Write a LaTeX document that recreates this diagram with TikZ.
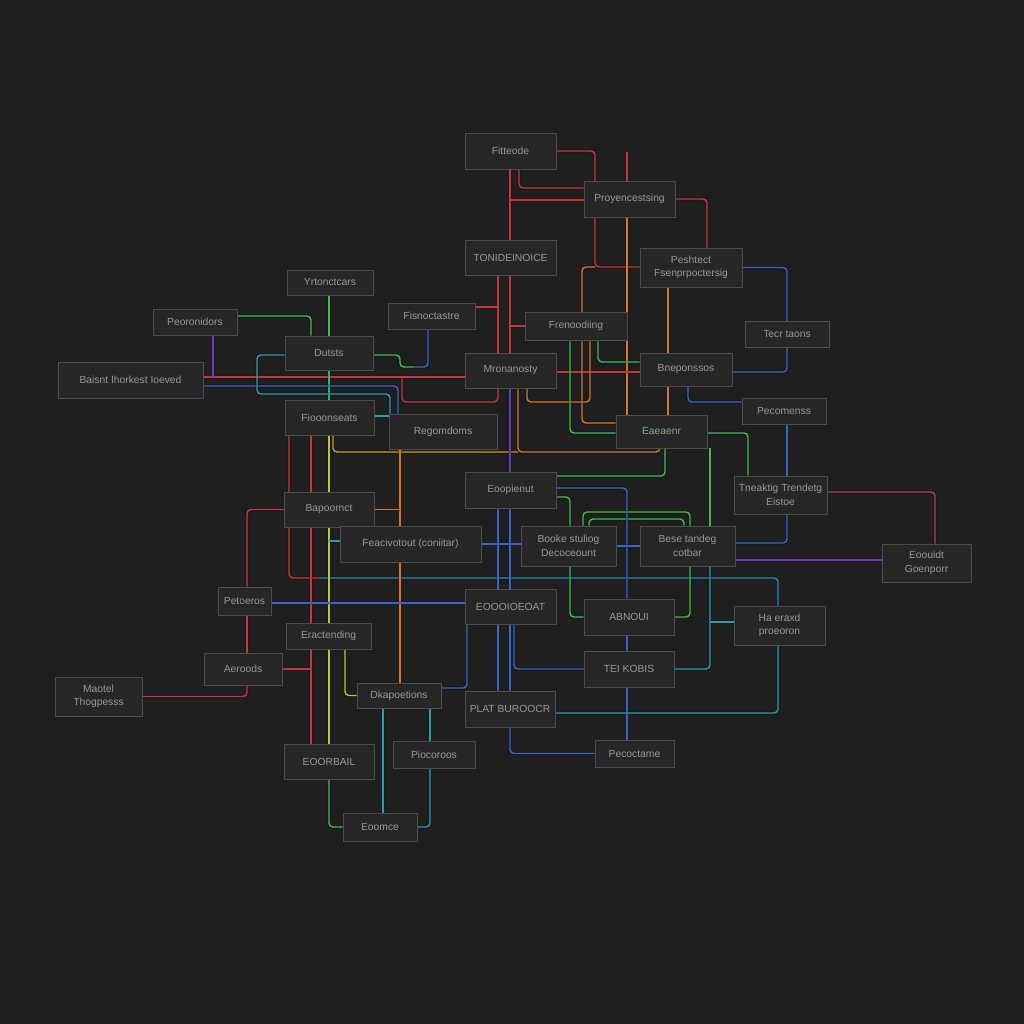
\documentclass[tikz,border=0pt]{standalone}
\usepackage{fontspec}
\setmainfont{Liberation Sans}
\pgfdeclarelayer{bgfill}
\pgfdeclarelayer{lines}
\pgfsetlayers{bgfill,lines,main}
\definecolor{bgc}{HTML}{1F1F1F}
\definecolor{boxfill}{HTML}{262626}
\definecolor{boxline}{HTML}{4C4C4C}
\definecolor{boxtext}{HTML}{9A9A9A}
\definecolor{cred}{HTML}{C8373C}
\definecolor{corange}{HTML}{D9782D}
\definecolor{camber}{HTML}{D29A32}
\definecolor{cyellow}{HTML}{B9C73A}
\definecolor{cgreen}{HTML}{3FBF4F}
\definecolor{cblue}{HTML}{3A66CC}
\definecolor{ccyan}{HTML}{2A9FB5}
\definecolor{cpurple}{HTML}{6A3CC0}
\definecolor{cpink}{HTML}{B0405E}
\definecolor{gtext}{HTML}{7FAE7F}
\tikzset{
  box/.style={draw=boxline, fill=boxfill, line width=0.8pt, text=boxtext,
    font=\fontsize{10.3}{13.5}\selectfont, align=center, inner sep=2pt},
  conn/.style={line width=1.4pt, rounded corners=4pt,
    preaction={draw, line width=4pt, opacity=0.16}},
}
\begin{document}
\begin{tikzpicture}[x=1pt,y=-1pt]
\begin{pgfonlayer}{bgfill}
\fill[bgc] (0,0) rectangle (1024,1024);
\end{pgfonlayer}
\useasboundingbox (0,0) rectangle (1024,1024);
% nodes
\node[box, minimum width=91pt, minimum height=36pt] (fit) at (510.5,151) {Fitteode};
\node[box, minimum width=91pt, minimum height=36pt] (proy) at (629.5,199) {Proyencestsing};
\node[box, minimum width=91pt, minimum height=35pt] (toni) at (510.5,257.5) {TONIDEINOICE};
\node[box, minimum width=102pt, minimum height=39pt] (pesh) at (691,267.5) {Peshtect\\Fsenprpoctersig};
\node[box, minimum width=86pt, minimum height=25pt] (yrt) at (330,282.5) {Yrtonctcars};
\node[box, minimum width=84pt, minimum height=26pt] (peor) at (195,322) {Peoronidors};
\node[box, minimum width=87pt, minimum height=26pt] (fisn) at (431.5,316) {Fisnoctastre};
\node[box, minimum width=102pt, minimum height=28pt] (fren) at (576,326) {Frenoodiing};
\node[box, minimum width=84pt, minimum height=26pt] (tecr) at (787,334) {Tecr taons};
\node[box, minimum width=88pt, minimum height=34pt] (duts) at (329,353) {Dutsts};
\node[box, minimum width=145pt, minimum height=36pt] (bais) at (130.5,380) {Baisnt Ihorkest Ioeved};
\node[box, minimum width=91pt, minimum height=35pt] (mron) at (510.5,370.5) {Mronanosty};
\node[box, minimum width=92pt, minimum height=33pt] (bnep) at (686,369.5) {Bneponssos};
\node[box, minimum width=89pt, minimum height=35pt] (fioo) at (329.5,417.5) {Fiooonseats};
\node[box, minimum width=108pt, minimum height=35pt] (reco) at (443,431.5) {Regomdoms};
\node[box, minimum width=84pt, minimum height=26pt] (peco) at (784,411) {Pecomenss};
\node[box, minimum width=91pt, minimum height=33pt, text=gtext] (eoea) at (661.5,431.5) {Eaeaenr};
\node[box, minimum width=91pt, minimum height=36pt] (eoop) at (510.5,490) {Eoopienut};
\node[box, minimum width=93pt, minimum height=38pt] (tnea) at (780.5,495) {Tneaktig Trendetg\\Eistoe};
\node[box, minimum width=90pt, minimum height=35pt] (bapo) at (329,509.5) {Bapoornct};
\node[box, minimum width=141pt, minimum height=36pt] (feac) at (410.5,544) {Feacivotout (coniitar)};
\node[box, minimum width=95pt, minimum height=40pt] (book) at (568.5,546) {Booke stuliog\\Decoceount};
\node[box, minimum width=95pt, minimum height=40pt] (bese) at (687.5,546) {Bese tandeg\\cotbar};
\node[box, minimum width=89pt, minimum height=38pt] (eoui) at (926.5,563) {Eoouidt\\Goenporr};
\node[box, minimum width=53pt, minimum height=28pt] (peto) at (244.5,601) {Petoeros};
\node[box, minimum width=91pt, minimum height=35pt] (eooo) at (510.5,606.5) {EOOOIOEOAT};
\node[box, minimum width=90pt, minimum height=36pt] (abno) at (629,617) {ABNOUI};
\node[box, minimum width=91pt, minimum height=39pt] (haer) at (779.5,625.5) {Ha eraxd\\proeoron};
\node[box, minimum width=85pt, minimum height=26pt] (erac) at (328.5,636) {Eractending};
\node[box, minimum width=78pt, minimum height=32pt] (aero) at (243,669) {Aeroods};
\node[box, minimum width=90pt, minimum height=36pt] (teik) at (629,669) {TEI KOBIS};
\node[box, minimum width=87pt, minimum height=39pt] (maot) at (98.5,696.5) {Maotel\\Thogpesss};
\node[box, minimum width=84pt, minimum height=25pt] (dkap) at (399,695.5) {Dkapoetions};
\node[box, minimum width=90pt, minimum height=36pt] (plat) at (510,709) {PLAT BUROOCR};
\node[box, minimum width=90pt, minimum height=35pt] (eoor) at (329,761.5) {EOORBAIL};
\node[box, minimum width=82pt, minimum height=27pt] (pioc) at (434,754.5) {Piocoroos};
\node[box, minimum width=79pt, minimum height=27pt] (peca) at (634.5,753.5) {Pecoctame};
\node[box, minimum width=74pt, minimum height=28pt] (eorc) at (380,827) {Eoomce};
% junction coordinates
\coordinate (j1) at (595,267);
\coordinate (j2) at (627,152);
\coordinate (j3) at (510,200);
\coordinate (j4) at (213,377);
\coordinate (j5) at (402,377);
\coordinate (j6) at (320,578);
\coordinate (j7) at (710,560);
\coordinate (j8) at (710,622);
\coordinate (j9) at (414,367);
\coordinate (j10) at (329,541);
\begin{pgfonlayer}{lines}
% red
\draw[conn, cred] (fit.east) -| (j1) -- (pesh.west |- 0,267);
\draw[conn, cred] (j2) -- (proy.north -| 627,0);
\draw[conn, corange] (proy.south -| 627,0) -- (eoea.north -| 627,0);
\draw[conn, cred] (fit.south -| 519,0) |- (proy.west |- 0,188);
\draw[conn, cred] (fit.south -| 510,0) -- (toni.north -| 510,0);
\draw[conn, cred] (toni.south -| 510,0) -- (mron.north -| 510,0);
\draw[conn, cred] (j3) -- (proy.west |- 0,200);
\draw[conn, cred] (fren.west) -- (fren.west -| 510,0);
\draw[conn, cred] (proy.east) -| (pesh.north -| 707,0);
\draw[conn, cred] (toni.south -| 498,0) -- (mron.north -| 498,0);
\draw[conn, cred] (fisn.east |- 0,307) -- (498,307);
\draw[conn, cred] (mron.south -| 498,0) |- (402,402) -- (j5);
\draw[conn, cred] (bais.east |- 0,377) -- (mron.west |- 0,377);
\draw[conn, cred] (mron.east |- 0,372) -- (bnep.west |- 0,372);
\draw[conn, cred] (fioo.south -| 289,0) |- (j6);
\draw[conn, ccyan!60!cblue] (j6) -| (haer.north -| 778,0);
\draw[conn, cred] (fioo.south -| 311,0) -- (eoor.north -| 311,0);
\draw[conn, cred] (bapo.west) -| (peto.north -| 247,0);
\draw[conn, cred] (peto.south -| 247,0) -- (aero.north -| 247,0);
\draw[conn, cred] (aero.south -| 247,0) |- (maot.east);
\draw[conn, cred] (aero.east) -- (aero.east -| 311,0);
% orange
\draw[conn, corange] (j1) -| (582,423) -- (eoea.west |- 0,423);
\draw[conn, corange] (pesh.south -| 668,0) -- (bnep.north -| 668,0);
\draw[conn, corange] (bnep.south -| 668,0) -- (eoea.north -| 668,0);
\draw[conn, corange] (fren.south -| 590,0) |- (527,402) -- (mron.south -| 527,0);
\draw[conn, corange] (mron.south -| 518,0) |- (660,452) -- (eoea.south -| 660,0);
\draw[conn, camber] (fioo.south -| 333,0) |- (518,452);
\draw[conn, corange] (reco.south -| 400,0) -- (dkap.north -| 400,0);
\draw[conn, corange] (bapo.east) -- (bapo.east -| 400,0);
% yellow
\draw[conn, cyellow] (fioo.south -| 329,0) -- (bapo.north -| 329,0);
\draw[conn, cyellow] (bapo.south -| 329,0) -- (erac.north -| 329,0);
\draw[conn, cyellow] (erac.south -| 329,0) -- (eoor.north -| 329,0);
\draw[conn, cyellow] (erac.south -| 345,0) |- (dkap.west);
% green
\draw[conn, cgreen] (yrt.south -| 329,0) -- (duts.north -| 329,0);
\draw[conn, cgreen!60!ccyan] (duts.south -| 329,0) -- (fioo.north -| 329,0);
\draw[conn, cgreen] (peor.east |- 0,316) -| (duts.north -| 311,0);
\draw[conn, cgreen] (duts.east |- 0,355) -| (400,367) -- (j9);
\draw[conn, cblue] (j9) -| (fisn.south -| 428,0);
\draw[conn, cgreen] (fren.south -| 570,0) |- (eoea.west |- 0,433);
\draw[conn, cgreen] (fren.south -| 598,0) |- (bnep.west |- 0,362);
\draw[conn, cgreen] (eoea.east |- 0,433) -| (tnea.north -| 748,0);
\draw[conn, cgreen] (eoea.south -| 665,0) |- (eoop.east |- 0,476);
\draw[conn, cgreen] (eoop.east |- 0,497) -| (book.north -| 570,0);
\draw[conn, cgreen] (book.north -| 583,0) |- (636,512) -| (bese.north -| 690,0);
\draw[conn, cgreen] (book.north -| 589,0) |- (636,519) -| (bese.north -| 684,0);
\draw[conn, cgreen] (book.south -| 570,0) |- (abno.west);
\draw[conn, cgreen] (bese.south -| 690,0) |- (abno.east);
\draw[conn, cgreen] (eoea.south -| 710,0) -- (j7);
\draw[conn, ccyan] (j7) |- (teik.east);
\draw[conn, ccyan] (j8) -- (haer.west |- 0,622);
\draw[conn, cgreen] (eoor.south -| 329,0) |- (eorc.west);
% blue
\draw[conn, cblue] (pesh.east) -| (787,372) -- (bnep.east |- 0,372);
\draw[conn, cblue] (bnep.south -| 688,0) |- (peco.west |- 0,402);
\draw[conn, cblue] (peco.south -| 787,0) -- (tnea.north -| 787,0);
\draw[conn, cblue] (tnea.south -| 787,0) |- (bese.east |- 0,543);
\draw[conn, cblue] (eoop.east |- 0,488) -| (abno.north -| 627,0);
\draw[conn, cblue] (abno.south -| 627,0) -- (teik.north -| 627,0);
\draw[conn, cblue] (teik.south -| 627,0) -- (peca.north -| 627,0);
\draw[conn, cblue] (feac.east) -- (book.west |- feac.east);
\draw[conn, cblue] (book.east) -- (bese.west);
\draw[conn, cblue] (eoop.south -| 498,0) -- (eooo.north -| 498,0);
\draw[conn, cblue] (eoop.south -| 510,0) -- (eooo.north -| 510,0);
\draw[conn, cblue] (eooo.south -| 498,0) -- (plat.north -| 498,0);
\draw[conn, cblue] (eooo.south -| 510,0) -- (plat.north -| 510,0);
\draw[conn, cblue] (eooo.south -| 514,0) |- (teik.west);
\draw[conn, cblue] (peto.east |- 0,603) -- (eooo.west |- 0,603);
\draw[conn, cblue] (eooo.south -| 467,0) |- (dkap.east |- 0,688);
\draw[conn, cblue] (plat.south -| 510,0) |- (peca.west);
\draw[conn, cblue] (bais.east |- 0,386) -| (reco.north -| 398,0);
% purple / pink
\draw[conn, cpurple] (peor.south -| 213,0) -- (j4);
\draw[conn, cpurple] (mron.south -| 510,0) -- (eoop.north -| 510,0);
\draw[conn, cpurple] (bese.east |- 0,560) -- (eoui.west |- 0,560);
\draw[conn, cpink] (tnea.east |- 0,492) -| (eoui.north -| 935,0);
% cyan
\draw[conn, ccyan] (duts.west |- 0,355) -| (257,394) -| (reco.north -| 390,0);
\draw[conn, ccyan] (fioo.east |- 0,416) -- (reco.west |- 0,416);
\draw[conn, ccyan] (haer.south -| 778,0) |- (plat.east |- 0,713);
\draw[conn, ccyan] (dkap.south -| 383,0) -- (eorc.north -| 383,0);
\draw[conn, ccyan] (dkap.south -| 430,0) -- (pioc.north -| 430,0);
\draw[conn, ccyan] (pioc.south -| 430,0) |- (eorc.east);
\draw[conn, ccyan] (j10) -- (feac.west |- 0,541);
\end{pgfonlayer}
\end{tikzpicture}
\end{document}
